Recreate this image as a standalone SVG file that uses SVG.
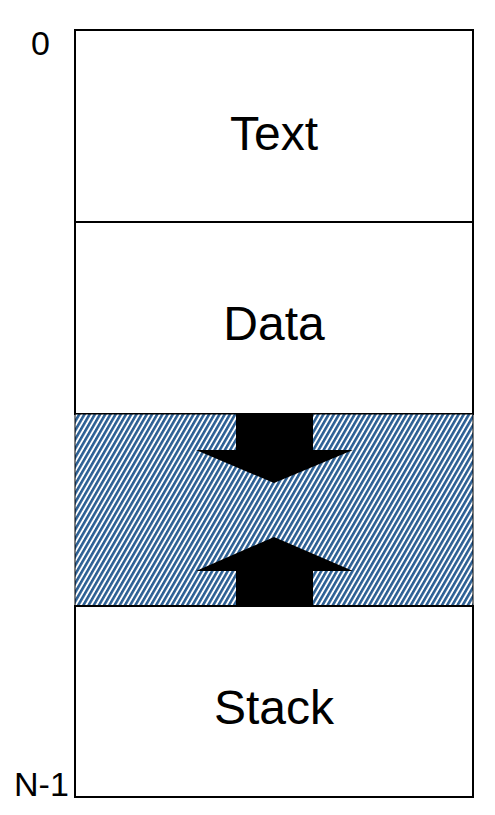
<svg xmlns="http://www.w3.org/2000/svg" width="495" height="815" viewBox="0 0 495 815">
<style>
.seg{fill:#fff;stroke:#000;stroke-width:2}
.lbl{font-family:"Liberation Sans",Arial,sans-serif;font-size:48px;fill:#000;text-anchor:middle}
.addr{font-family:"Liberation Sans",Arial,sans-serif;font-size:34px;fill:#000}
.arrow{fill:#000}
</style>
<defs>
<pattern id="hatch" patternUnits="userSpaceOnUse" width="4.5" height="4.5" patternTransform="rotate(30)">
<rect width="4.5" height="4.5" fill="#fff"/>
<rect width="2.6" height="4.5" fill="#2c5f93"/>
</pattern>
</defs>
<rect width="495" height="815" fill="#fff"/>
<g id="text-seg">
<rect class="seg" x="75" y="30" width="398" height="192"/>
<text class="lbl" x="274" y="150">Text</text>
</g>
<g id="data-seg">
<rect class="seg" x="75" y="222" width="398" height="192"/>
<text class="lbl" x="274" y="340">Data</text>
</g>
<g id="free-seg">
<rect x="75" y="414" width="398" height="192" fill="url(#hatch)" stroke="#000" stroke-width="1"/>
</g>
<g id="stack-seg">
<rect class="seg" x="75" y="606" width="398" height="191"/>
<text class="lbl" x="274" y="724">Stack</text>
</g>
<g id="connectors">
<polygon class="arrow" points="236,414 313,414 313,450 353,450 274,483 196,450 236,450"/>
<polygon class="arrow" points="236,606 313,606 313,571 353,571 274,537 196,571 236,571"/>
</g>
<g id="labels">
<text class="addr" x="31" y="55">0</text>
<text class="addr" x="14" y="796">N-1</text>
</g>
</svg>
